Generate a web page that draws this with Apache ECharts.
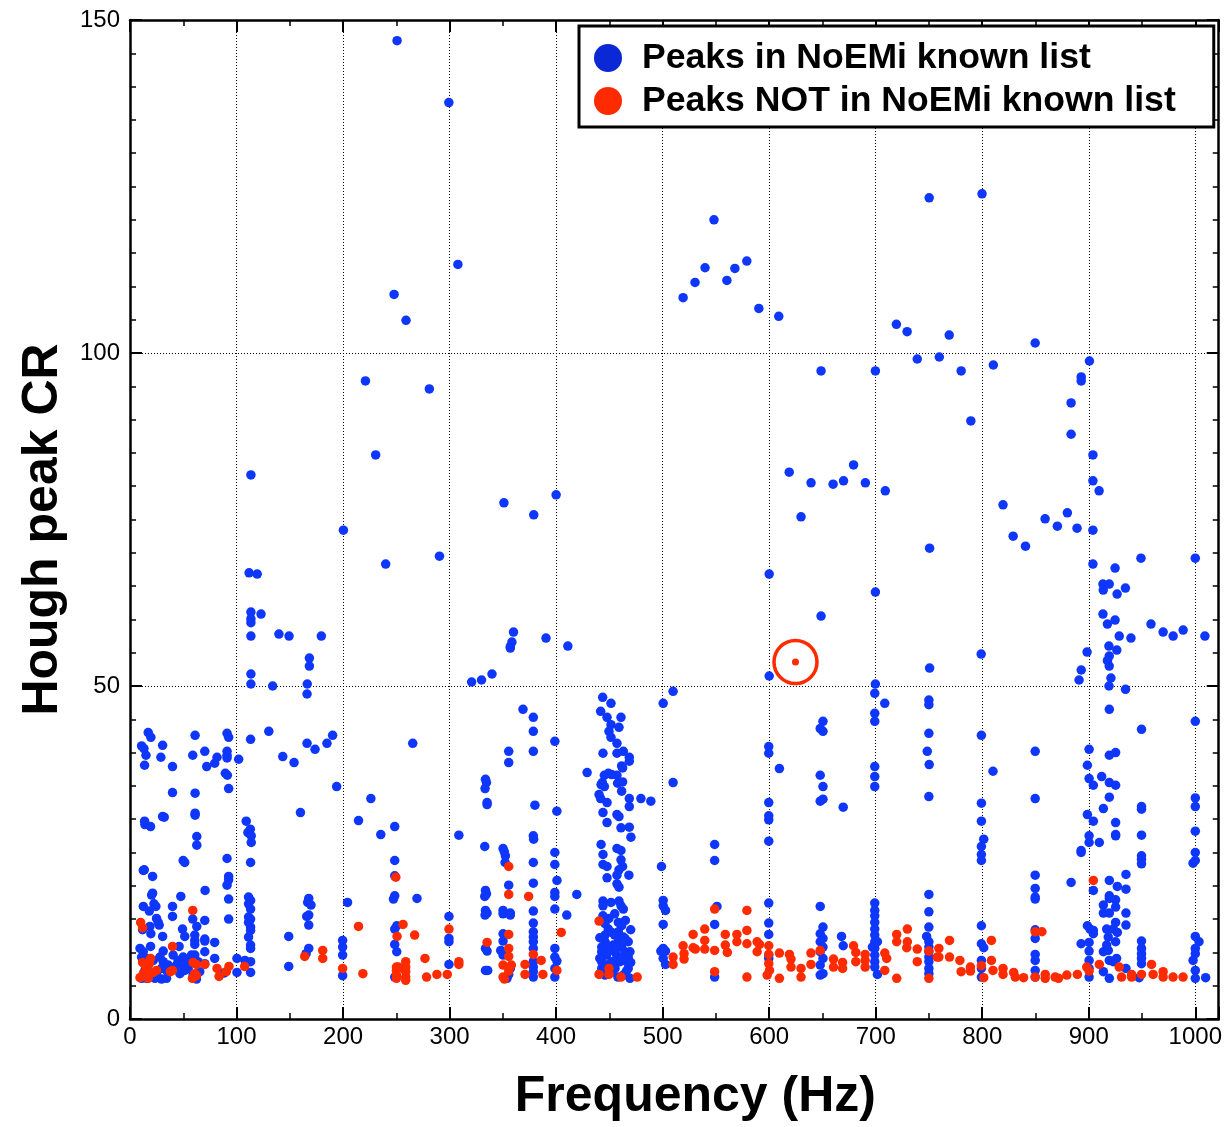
<!DOCTYPE html>
<html>
<head>
<meta charset="utf-8">
<script src="https://cdn.jsdelivr.net/npm/echarts@6/dist/echarts.min.js"></script>
<style>
  html, body { margin: 0; padding: 0; background: #ffffff; }
  #chart { width: 1225px; height: 1127px; }
</style>
</head>
<body>
<div id="chart"></div>
<script>
// Axis tick labels
const freqTicks = [0, 100, 200, 300, 400, 500, 600, 700, 800, 900, 1000];
const crTicks = [0, 50, 100, 150];

// Series names
const knownName = 'Peaks in NoEMi known list';
const newName = 'Peaks NOT in NoEMi known list';

// Hough peaks whose frequency is in the NoEMi known-lines list: [frequency Hz, CR]
const knownPeaks = [
  // 0 - 100 Hz
  [17.1,43.0],[19.6,42.3],[10.9,41.0],[13.1,40.6],[15.0,39.6],[13.7,38.1],[30.6,41.1],[29.0,39.3],[39.9,37.9],[39.9,34.0],
  [61.1,42.6],[58.9,39.6],[61.1,33.9],[61.1,30.9],[61.1,30.6],[70.2,40.2],[72.0,37.9],[79.5,38.4],[81.7,39.3],[91.1,42.9],
  [92.6,42.3],[91.1,40.2],[91.1,39.6],[91.1,39.2],[89.5,36.9],[91.4,36.6],[92.6,34.6],[13.7,29.7],[14.0,29.2],[19.3,28.9],
  [30.6,30.4],[32.1,30.3],[62.7,27.4],[62.7,26.1],
  [13.4,22.4],[12.5,22.3],[21.2,21.4],[49.9,23.8],[51.4,23.5],[91.1,24.1],[92.6,21.4],[92.6,20.9],[91.1,20.1],[92.6,18.0],
  [92.6,15.0],[70.5,19.3],[47.7,18.4],[21.2,18.9],[20.3,18.6],[22.5,17.3],[24.3,16.9],[12.5,16.9],[18.1,16.2],[39.9,16.9],
  [39.9,15.4],[58.9,15.0],[62.7,13.9],[70.2,14.8],[24.9,15.1],[27.4,14.1],[26.5,14.5],[18.7,13.9],[19.6,12.8],[11.8,13.4],
  [30.6,12.4],[49.3,13.5],[51.4,12.4],[60.8,12.6],[60.8,11.8],[60.8,11.2],[70.2,12.0],[70.2,11.7],[79.5,11.5],[46.1,10.9],
  [19.3,10.9],[9.4,10.6],[12.5,10.1],[31.2,10.2],[70.2,10.1],[79.5,9.1],
  [10.9,9.3],[15.6,9.1],[21.8,8.8],[28.1,9.3],[31.2,8.6],[35.9,8.1],[40.5,9.6],[45.2,8.8],[49.9,9.3],[53.0,8.6],
  [57.7,9.6],[60.8,9.6],[63.9,8.6],[54.6,7.6],[49.9,8.1],[43.7,8.1],[41.5,7.6],[34.3,7.3],[29.6,7.6],[24.9,6.8],
  [18.7,7.1],[14.0,7.3],[10.9,6.1],[15.5,6.1],[23.4,6.1],[29.6,6.0],[34.3,6.1],[46.8,6.8],[51.4,7.3],[62.4,6.0],
  [59.2,6.6],[65.5,7.1],[70.2,8.3],[88.2,6.9],[100.4,9.1],[100.4,7.0],
  // 100 - 300 Hz
  [102.0,39.0],[113.2,42.0],[109.1,29.7],[112.9,28.5],[110.7,28.0],[113.8,27.5],[113.8,26.5],[130.3,43.2],[143.4,39.4],[154.0,38.5],
  [166.2,41.4],[173.7,40.5],[184.9,41.4],[190.2,42.6],[194.0,34.9],[160.0,31.0],[226.1,33.1],[214.5,29.8],[235.4,27.7],[248.5,28.9],
  [248.5,23.8],[265.4,41.4],[166.2,48.8],
  [113.2,23.5],[111.3,18.3],[113.2,17.8],[111.3,17.3],[113.2,16.5],[111.3,15.3],[113.2,15.0],[111.3,14.5],[113.2,13.8],[113.2,13.3],
  [111.3,12.3],[113.2,11.1],[113.2,10.6],[107.9,8.8],[113.2,8.6],[113.2,7.0],[149.0,12.4],[149.0,7.9],[167.8,18.1],[166.8,17.5],
  [169.9,17.1],[165.9,15.4],[167.8,15.6],[167.8,14.1],[167.8,10.6],[165.3,9.8],[204.2,17.5],[199.6,11.8],[199.6,10.8],[199.6,9.6],
  [199.6,6.5],[248.5,21.5],[248.5,18.5],[247.3,18.0],[250.4,14.0],[248.5,13.5],[248.5,11.2],[250.4,10.1],[269.4,18.1],[248.5,6.3],
  // 0 - 515 Hz, CR above 50
  [250.7,146.9],[299.3,137.6],[307.8,113.3],[247.9,108.8],[259.1,104.9],
  [113.5,81.7],[221.0,95.8],[281.0,94.6],[230.6,84.7],[200.3,73.4],[351.0,77.5],[379.0,75.7],[400.0,78.7],[290.5,69.5],[240.0,68.3],
  [111.8,67.0],[119.4,66.8],[113.5,61.1],[123.0,60.8],[113.5,60.1],[113.5,59.5],[113.5,57.5],[139.8,57.8],[149.3,57.5],[179.6,57.5],
  [168.4,54.2],[168.4,53.0],[113.5,51.8],[113.5,50.3],[133.9,50.0],[166.4,50.3],[320.7,50.6],[330.0,50.9],[339.8,51.8],[360.0,58.1],
  [358.5,56.6],[357.0,55.9],[357.0,55.7],[390.5,57.2],[411.0,56.0],
  // 290 - 430 Hz
  [378.6,45.3],[378.6,43.2],[378.6,40.2],[355.5,40.2],[355.5,38.5],[398.8,41.7],[400.7,31.2],[380.1,32.1],[333.7,36.0],[334.6,35.5],
  [333.3,34.6],[335.2,32.5],[335.2,32.2],[308.7,27.6],[333.0,25.9],[350.2,25.6],[351.4,25.1],[352.4,24.5],[352.1,23.5],[378.6,27.5],
  [378.9,27.0],[378.6,23.5],[378.6,20.4],[355.5,20.1],[333.7,19.3],[334.6,18.8],[333.0,18.4],[333.7,16.3],[335.2,15.9],[333.3,15.6],
  [350.2,16.3],[350.2,15.8],[357.0,15.9],[357.0,15.6],[378.6,16.2],[378.6,14.4],[378.6,13.1],[378.6,12.3],[378.6,11.6],[350.2,12.8],
  [350.2,11.7],[333.7,10.6],[335.2,10.2],[348.0,10.3],[350.2,9.6],[333.7,7.3],[335.8,7.3],[357.0,7.6],[355.5,6.7],[353.9,6.1],
  [378.6,10.6],[378.6,8.6],[378.6,7.8],[378.6,7.1],[378.6,6.3],[398.8,25.0],[398.8,23.2],[400.8,20.8],[398.8,19.0],[398.8,18.4],
  [398.8,16.5],[410.0,15.6],[419.4,18.7],[398.8,10.6],[398.8,9.3],[400.7,8.7],[398.8,7.6],[398.8,6.3],[429.1,37.0],[299.4,15.4],
  [299.4,12.1],[299.4,11.6],[299.4,8.2],[368.9,46.5],
  // 440 - 510 Hz
  [443.7,48.3],[451.5,47.4],[441.8,46.2],[447.8,45.3],[460.9,45.3],[451.5,44.2],[459.0,43.8],[449.6,43.2],[451.5,42.3],[457.1,41.4],
  [444.0,39.9],[457.1,39.9],[463.1,40.2],[468.7,39.3],[468.7,38.7],[461.5,38.0],[462.4,37.7],[445.3,36.6],[449.0,36.9],[452.1,36.7],
  [443.4,35.5],[445.3,34.9],[442.2,35.2],[457.1,36.6],[457.7,35.4],[462.4,35.6],[461.5,34.2],[440.3,33.7],[441.8,33.1],[447.8,32.5],
  [468.7,33.1],[468.7,31.9],[479.6,33.1],[488.9,32.7],[444.0,31.0],[447.8,29.5],[457.1,30.7],[459.0,30.4],[460.9,28.7],[468.7,28.8],
  [470.2,27.3],[442.2,26.2],[444.0,24.7],[457.1,25.6],[460.9,25.3],[444.0,23.2],[447.8,22.9],[460.9,23.9],[462.4,22.9],[459.0,22.4],
  [468.3,21.6],[447.8,21.2],[457.1,21.6],[457.1,20.3],[459.0,19.8],[444.0,17.7],[444.0,17.0],[451.5,17.5],[459.0,17.7],[460.9,17.0],
  [463.1,16.5],[449.6,15.1],[445.9,14.3],[449.0,13.5],[445.9,12.6],[452.1,13.0],[445.9,11.6],[442.8,10.8],[442.8,10.1],[447.5,9.6],
  [450.6,10.3],[453.7,11.1],[458.4,14.5],[461.5,14.0],[458.4,13.1],[463.1,12.3],[458.4,11.6],[461.5,10.8],[464.6,10.1],[456.8,9.6],
  [467.7,9.3],[459.9,8.6],[466.2,8.6],[469.3,10.1],[467.7,11.6],[464.6,12.1],[442.8,8.6],[447.5,8.1],[452.1,8.6],[442.8,7.6],
  [455.3,7.6],[445.9,6.6],[463.1,6.6],[469.3,6.1],[467.7,7.6],[441.2,6.8],[444.0,15.5],[455.0,15.8],[465.0,14.8],[441.0,12.2],
  [455.0,12.6],[470.0,13.4],[448.0,11.0],[462.0,9.2],[452.0,7.0],[458.0,6.3],[470.0,8.5],[441.0,9.1],[456.0,10.5],[466.0,7.2],
  [500.5,47.4],[509.8,49.2],[509.8,35.5],[498.9,22.9],
  [500.5,17.8],[500.5,17.0],[502.7,16.3],[500.5,14.2],[498.3,10.2],[500.5,10.6],[502.7,10.2],[500.5,9.1],[502.7,8.2],
  // 515 - 1024 Hz, CR above 50
  [548.2,120.0],[750.2,123.3],[799.8,123.9],[579.0,113.8],[567.8,112.7],[539.8,112.8],[530.4,110.6],[519.2,108.3],[560.3,110.9],[590.3,106.7],
  [609.0,105.5],[719.4,104.3],
  [648.7,97.3],[699.7,97.3],[729.5,103.2],[769.0,102.7],[849.7,101.5],[739.0,99.1],[759.7,99.4],[780.2,97.3],
  [810.4,98.2],[900.6,98.8],[892.9,96.4],[892.9,95.8],[883.4,92.5],[883.4,87.8],[789.3,89.8],[903.9,84.7],[903.9,80.8],[909.7,79.3],
  [618.8,82.1],[639.3,80.5],[660.0,80.3],[669.8,80.8],[679.2,83.2],[690.3,80.5],[709.0,79.3],[629.9,75.4],[819.5,77.2],[859.0,75.1],
  [879.9,76.0],[870.5,74.0],[889.0,73.7],[903.9,73.4],[829.0,72.5],[840.6,71.0],[750.6,70.7],[903.9,68.3],[924.7,67.7],[949.0,69.2],
  [1000.0,69.2],[913.3,65.3],[919.2,65.3],[913.6,64.4],[926.6,63.8],[934.4,64.7],[600.0,66.8],[699.7,64.1],[648.7,60.5],[913.3,60.8],
  [917.5,59.3],[924.7,59.9],[928.6,57.5],[939.6,57.2],[958.4,59.3],[969.8,58.1],[979.2,57.5],[988.6,58.4],[1009.0,57.5],[799.0,54.8],
  [898.4,55.1],[918.9,56.0],[926.3,55.4],[919.2,54.5],[917.5,53.8],[919.2,53.0],[892.9,52.4],[890.9,50.9],[920.8,51.2],[919.0,50.0],
  [750.6,52.7],[600.0,51.5],[699.7,50.3],
  // 540 - 760 Hz
  [548.8,26.2],[548.8,23.8],[551.0,16.9],[548.8,14.2],[548.8,6.3],
  [599.6,40.9],[599.6,39.9],[609.6,37.6],[599.6,32.5],[599.6,30.5],[599.6,29.9],[599.6,26.7],[599.6,17.4],[599.6,14.4],[599.6,12.7],
  [599.6,9.6],[599.6,9.1],
  [650.5,44.7],[647.9,43.6],[650.5,43.2],[647.9,36.6],[650.5,34.9],[647.9,32.7],[650.5,33.0],[669.5,31.8],[647.9,16.9],[650.5,13.8],
  [647.9,12.8],[650.5,12.1],[647.9,11.6],[650.5,10.8],[647.9,10.1],[650.5,9.1],[647.9,8.1],[650.5,6.8],[647.9,6.6],[667.9,12.4],
  [669.5,11.0],
  [699.1,48.9],[699.1,45.9],[699.1,44.7],[708.5,47.4],[699.1,37.9],[699.1,36.4],[699.1,34.9],[699.1,17.4],[699.1,16.3],[699.1,15.5],
  [699.1,14.5],[699.1,13.5],[699.1,12.6],[699.1,11.6],[699.1,10.6],[699.1,9.6],[699.1,8.6],[699.1,7.8],[701.6,6.7],[696.9,10.8],
  [701.6,11.6],
  [749.9,47.9],[749.9,47.2],[749.9,42.9],[748.4,40.2],[750.2,38.2],[749.9,33.4],[749.9,18.7],[749.9,16.1],[749.9,13.8],[747.8,12.4],
  [749.9,11.6],[749.9,10.8],[749.9,10.1],[749.9,9.3],[749.9,8.6],[749.9,7.6],[749.9,6.8],
  // 790 - 1024 Hz
  [799.2,42.6],[810.1,37.2],[799.2,32.4],[799.2,29.7],[801.4,27.0],[799.2,25.9],[799.2,24.7],[799.2,23.8],[799.2,14.0],[799.2,11.3],
  [801.4,10.7],[799.2,8.8],[799.2,7.6],[799.2,6.3],
  [849.7,40.2],[849.7,33.1],[849.7,21.6],[849.7,19.6],[849.7,18.3],[849.7,18.0],[849.7,13.4],[849.7,12.1],[849.7,9.7],[849.7,8.8],
  [849.7,7.3],[849.7,6.3],
  [883.4,20.5],[892.8,25.3],[892.8,25.0],[892.8,11.3],
  [900.3,40.5],[898.7,38.1],[900.3,36.1],[904.3,35.1],[898.7,30.7],[904.3,29.7],[900.3,27.5],[900.3,26.5],[909.9,26.5],[904.3,19.3],
  [898.7,14.0],[901.2,13.5],[904.3,13.3],[904.3,12.8],[900.3,11.5],[900.3,10.2],[900.3,8.8],[900.3,7.6],[900.3,6.3],
  [912.1,36.4],[913.7,31.6],[919.3,33.3],[919.3,46.5],[919.3,39.6],[919.3,35.5],[925.2,40.0],[925.2,35.1],[934.5,49.5],[925.2,29.5],
  [925.2,27.7],[925.2,27.5],[919.3,20.8],[926.8,19.9],[934.9,21.7],[934.9,19.5],[919.3,18.5],[919.3,18.1],[913.7,17.1],[913.7,15.9],
  [919.3,15.9],[925.2,17.9],[925.2,16.8],[934.9,15.9],[934.9,14.1],[916.8,13.5],[923.0,13.5],[925.2,14.5],[926.8,13.0],[918.3,12.3],
  [925.2,11.6],[913.7,10.1],[918.3,10.3],[916.8,11.1],[919.3,8.8],[923.0,8.6],[926.1,9.1],[913.7,7.1],[919.3,6.1],[934.9,7.6],
  [949.5,43.5],[949.5,31.9],[949.5,31.5],[949.5,27.6],[949.5,24.5],[949.5,24.0],[949.5,23.3],[949.5,11.7],[949.5,10.6],[949.5,9.8],
  [949.5,9.1],[949.5,8.3],[947.3,6.2],
  [1000.0,44.7],[1000.0,33.2],[1000.0,31.9],[1000.0,28.2],[1000.0,25.0],[997.9,23.4],[1000.0,23.8],[1000.0,12.4],[1003.5,11.6],[1000.0,10.6],
  [1000.0,9.8],[997.9,8.8],[1000.0,7.3],[1000.0,6.1],[1009.7,6.2]
];

// Hough peaks with no match in the NoEMi known-lines list: [frequency Hz, CR]
const newPeaks = [
  [39.9,10.9],[10.0,14.5],[11.8,13.7],[58.9,16.3],[11.8,8.5],[19.3,9.1],[18.1,8.3],[59.2,8.5],[62.4,8.2],[70.2,8.2],
  [39.9,7.3],[38.0,7.1],[24.9,7.3],[21.8,7.0],[15.6,7.3],[12.5,6.8],[9.4,6.2],[17.1,6.1],[60.8,6.8],[62.4,6.5],
  [58.6,6.1],[81.7,7.6],[83.6,6.4],[90.4,7.1],[92.9,7.9],[14.0,8.1],[107.6,7.9],
  [164.0,9.4],[180.9,10.3],[180.9,9.1],[199.6,7.6],
  [249.5,21.3],[256.3,14.2],[250.7,12.4],[267.2,12.6],[214.5,13.9],[218.6,6.8],[250.1,7.8],[250.1,7.3],[250.1,6.6],[250.1,6.1],
  [252.0,7.8],[258.8,8.6],[258.8,7.8],[258.8,7.1],[258.8,6.3],[258.8,5.8],[276.9,9.1],[278.4,6.3],[288.1,6.7],
  [355.5,22.9],[355.5,18.7],[374.2,18.4],[355.5,12.7],[335.2,11.5],[355.5,10.6],[355.5,9.4],[350.2,8.1],[358.0,8.1],[355.5,7.2],
  [350.2,6.3],[351.5,6.0],[370.8,8.2],[370.8,6.7],[378.6,9.7],[386.0,8.8],[387.6,6.7],[404.8,13.0],[400.7,7.3],[299.4,13.5],
  [308.7,8.6],[308.7,8.2],[297.8,6.7],
  [440.3,14.7],[440.3,6.7],[449.6,7.6],[449.6,6.7],[460.9,6.3],[476.1,6.3],[509.8,9.3],[509.8,8.2],
  [519.2,11.0],[520.1,9.8],[520.1,9.0],[528.6,12.7],[528.6,10.7],[530.7,10.5],[539.5,13.5],[539.5,11.8],[539.5,10.5],[548.8,16.5],
  [548.8,10.3],[548.8,7.1],[558.8,12.7],[558.8,11.1],[560.7,10.0],[569.7,12.7],[569.7,11.6],[579.1,16.3],[579.1,13.3],[579.1,11.3],
  [579.1,6.3],[588.7,11.6],[588.7,10.1],[590.9,11.2],[599.6,11.0],[599.6,9.7],[599.6,8.3],[598.1,6.6],[600.3,7.3],[609.6,9.9],
  [609.6,6.1],[619.0,9.7],[620.5,9.0],[620.5,7.8],[629.9,7.6],[629.9,6.3],[639.2,9.9],[639.2,8.2],[647.9,10.3],[660.4,9.0],
  [660.4,7.8],[668.9,8.5],[668.9,7.6],[679.2,11.0],[681.3,10.0],[681.3,8.6],[690.1,9.7],[690.1,8.8],[690.1,7.8],[708.5,9.9],
  [710.3,9.1],[708.5,7.3],[719.7,12.7],[719.7,11.6],[719.7,6.1],[729.7,13.5],[729.7,11.6],[729.1,10.7],[739.0,10.5],[739.0,8.6],
  [749.9,10.2],[749.9,6.1],[757.7,9.3],
  [759.3,10.6],[759.3,9.3],[769.3,11.8],[769.3,9.3],[779.0,8.8],[780.2,7.1],[788.9,7.8],[788.9,7.2],[799.2,8.0],[801.4,6.2],
  [808.6,11.8],[808.6,8.8],[810.1,7.3],[819.5,7.6],[819.5,6.7],[829.5,7.0],[831.0,6.3],[838.8,6.2],[849.7,13.1],[856.0,13.1],
  [849.7,6.3],[859.1,6.7],[859.1,6.1],[868.4,6.3],[871.6,6.1],[879.4,6.6],[889.3,6.7],[898.1,7.8],[900.3,7.2],[904.3,20.8],
  [909.9,8.2],[928.6,7.8],[930.8,6.3],[940.2,6.7],[940.2,6.3],[949.5,6.7],[958.9,8.2],[960.4,6.7],[969.8,7.1],[969.8,6.3],
  [979.1,6.3],[988.5,6.3]
];

// The single unmatched peak above CR 50, circled
const flaggedPeak = [[624.7, 53.6]];

const BLUE = '#0f36fb';
const BLUE_KEY = '#0a28d6';
const RED = '#ff2b00';
const FONT = '"Liberation Sans", Arial, Helvetica, sans-serif';

const chart = echarts.init(document.getElementById('chart'), null, { renderer: 'canvas' });

const dotted = { type: [1, 2], color: '#000', width: 1 };

function frameAxis(extra) {
  return Object.assign({
    type: 'value',
    axisLine: { show: true, onZero: false, lineStyle: { color: '#000', width: 2.5 } },
    axisTick: { show: true, inside: true, length: 12, lineStyle: { color: '#000', width: 2 } },
    minorTick: { show: true, length: 6, lineStyle: { color: '#000', width: 1.5 } },
    splitLine: { show: false },
    minorSplitLine: { show: false }
  }, extra);
}

const option = {
  animation: false,
  backgroundColor: '#ffffff',
  grid: { left: 130, top: 20, right: 3, bottom: 103, containLabel: false },
  xAxis: [
    frameAxis({
      position: 'bottom', min: 0, max: 1022, interval: 100,
      minorTick: { show: true, splitNumber: 2, length: 6, lineStyle: { color: '#000', width: 1.5 } },
      splitLine: { show: true, lineStyle: dotted },
      axisLabel: {
        show: true, margin: 6, color: '#000', fontFamily: FONT, fontSize: 24,
        formatter: v => (freqTicks.includes(v) ? String(v) : '')
      },
      name: 'Frequency (Hz)', nameLocation: 'middle', nameGap: 53,
      nameTextStyle: { fontFamily: FONT, fontWeight: 'bold', fontSize: 50, color: '#000', padding: [0, 0, 0, 42] }
    }),
    frameAxis({
      position: 'top', min: 0, max: 1022, interval: 100,
      minorTick: { show: true, splitNumber: 2, length: 6, lineStyle: { color: '#000', width: 1.5 } },
      axisLabel: { show: false }
    })
  ],
  yAxis: [
    frameAxis({
      position: 'left', min: 0, max: 150, interval: 50,
      minorTick: { show: true, splitNumber: 10, length: 6, lineStyle: { color: '#000', width: 1.5 } },
      splitLine: { show: true, lineStyle: dotted },
      axisLabel: {
        show: true, margin: 10, color: '#000', fontFamily: FONT, fontSize: 24, padding: [0, 0, 10, 0],
        formatter: v => (crTicks.includes(v) ? String(v) : '')
      },
      name: 'Hough peak CR', nameLocation: 'middle', nameGap: 62, nameRotate: 90,
      nameTextStyle: { fontFamily: FONT, fontWeight: 'bold', fontSize: 50, color: '#000', padding: [0, 20, 0, 0] }
    }),
    frameAxis({
      position: 'right', min: 0, max: 150, interval: 50,
      minorTick: { show: true, splitNumber: 10, length: 6, lineStyle: { color: '#000', width: 1.5 } },
      axisLabel: { show: false }
    })
  ],
  legend: {
    show: true,
    orient: 'vertical',
    left: 579, top: 26,
    padding: [14, 38, 8, 15],
    itemWidth: 28, itemHeight: 28, itemGap: 7,
    icon: 'circle',
    borderColor: '#000', borderWidth: 3, backgroundColor: '#fff',
    selectedMode: false,
    textStyle: { fontFamily: FONT, fontWeight: 'bold', fontSize: 35.6, color: '#000', padding: [0, 0, 0, 15], lineHeight: 30 },
    data: [
      { name: knownName, itemStyle: { color: BLUE_KEY } },
      { name: newName, itemStyle: { color: RED } }
    ]
  },
  graphic: [
    // the top of the "150" label is trimmed at the page edge
    { type: 'rect', left: 80, top: 0, shape: { width: 48, height: 10 }, style: { fill: '#fff' }, z: 100 }
  ],
  series: [
    {
      name: knownName, type: 'scatter', xAxisIndex: 0, yAxisIndex: 0,
      data: knownPeaks, symbol: 'circle', symbolSize: 9.5,
      itemStyle: { color: BLUE, opacity: 1 }, z: 2
    },
    {
      name: newName, type: 'scatter', xAxisIndex: 0, yAxisIndex: 0,
      data: newPeaks, symbol: 'circle', symbolSize: 9.5,
      itemStyle: { color: RED, opacity: 1 }, z: 3
    },
    {
      name: 'flagged', type: 'scatter', xAxisIndex: 0, yAxisIndex: 0,
      data: flaggedPeak, symbol: 'circle', symbolSize: 7,
      itemStyle: { color: RED, opacity: 1 }, z: 4
    },
    {
      name: 'flagged ring', type: 'scatter', xAxisIndex: 0, yAxisIndex: 0,
      data: flaggedPeak, symbol: 'circle', symbolSize: 43,
      itemStyle: { color: 'rgba(0,0,0,0)', borderColor: RED, borderWidth: 3.5, opacity: 1 }, z: 4,
      silent: true
    }
  ]
};

chart.setOption(option);
</script>
</body>
</html>
